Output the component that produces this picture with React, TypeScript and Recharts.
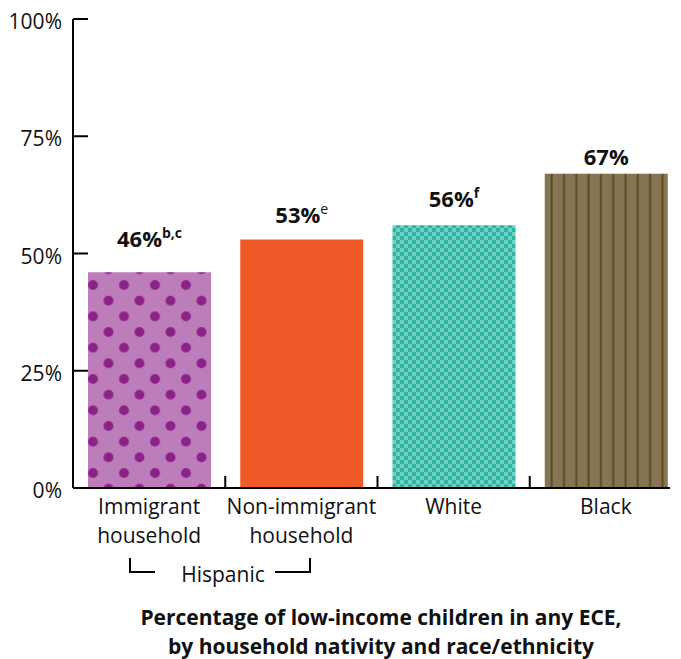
import React from 'react';
import { BarChart, Bar, XAxis, YAxis, Cell, LabelList } from 'recharts';

const categories = ['Immigrant household', 'Non-immigrant household', 'White', 'Black'];
const categoryLines = [['Immigrant', 'household'], ['Non-immigrant', 'household'], ['White'], ['Black']];
const values = [46, 53, 56, 67];
const superscripts = ['b,c', 'e', 'f', ''];
const superBold = [true, false, true, false];
const yTicks = [0, 25, 50, 75, 100];
const fills = ['url(#dots)', '#f05a28', 'url(#checker)', 'url(#stripes)'];

const data = categories.map((c, i) => ({ name: c, value: values[i] }));

// layout / style constants
const LABEL_GAP = [25, 16, 18, 9];
const FONT = '"Open Sans", "Noto Sans", sans-serif';
const CHART_W = 670;
const CHART_H = 659;
const MARGIN = { top: 19, right: 0, bottom: 111, left: 0 };
const Y_W = 73;
const X_H = 60;
const PAD_RIGHT = -12;
const PLOT_W = CHART_W - MARGIN.left - MARGIN.right - Y_W;
const BAND = (PLOT_W - PAD_RIGHT) / categories.length;

const YTick = (props: any) => {
  const { y, payload } = props;
  return (
    <g>
      <line x1={Y_W} x2={Y_W + 15} y1={y} y2={y} stroke="#000" strokeWidth={2} />
      <text x={Y_W - 11} y={y} dy={10} textAnchor="end" fontFamily={FONT} fontSize={21} fill="#111">
        {payload.value}%
      </text>
    </g>
  );
};

const XTick = (props: any) => {
  const { x, y, index } = props;
  const lines = categoryLines[index] || [];
  return (
    <g>
      {index > 0 && (
        <line x1={x - BAND / 2} x2={x - BAND / 2} y1={y} y2={y - 12} stroke="#000" strokeWidth={2} />
      )}
      {lines.map((l, i) => (
        <text key={i} x={x} y={y + 26 + i * 29} textAnchor="middle" fontFamily={FONT} fontSize={21} fill="#111">
          {l}
        </text>
      ))}
    </g>
  );
};

const ValueLabel = (props: any) => {
  const { x, y, width, index } = props;
  const sup = superscripts[index];
  return (
    <text x={x + width / 2} y={y - LABEL_GAP[index]} textAnchor="middle" fontFamily={FONT} fill="#111">
      <tspan fontSize={22} fontWeight={700}>{values[index]}%</tspan>
      {sup ? (
        <tspan fontSize={14} fontWeight={superBold[index] ? 700 : 400} dy={-9}>{sup}</tspan>
      ) : null}
    </text>
  );
};

export default function App() {
  return (
    <div style={{ position: 'relative', width: 681, height: 659, marginTop: -8, marginLeft: -8 }}>
      <BarChart width={CHART_W} height={CHART_H} data={data} margin={MARGIN} barSize={123}>
        <defs>
          <pattern id="dots" patternUnits="userSpaceOnUse" width={31} height={31.33} x={85.25} y={277.17}>
            <rect width={31} height={31.33} fill="#bd7dbb" />
            <circle cx={7.75} cy={7.83} r={5} fill="#8c2187" />
            <circle cx={23.25} cy={23.5} r={5} fill="#8c2187" />
          </pattern>
          <pattern id="checker" patternUnits="userSpaceOnUse" width={8} height={8}>
            <rect width={8} height={8} fill="#2db4a2" />
            <rect width={4} height={4} fill="#72d0c4" />
            <rect x={4} y={4} width={4} height={4} fill="#72d0c4" />
          </pattern>
          <pattern id="stripes" patternUnits="userSpaceOnUse" width={12.3} height={20} x={8}>
            <rect width={12.3} height={20} fill="#857553" />
            <rect x={1.5} width={2} height={20} fill="#5c4a26" />
          </pattern>
        </defs>
        <YAxis
          width={Y_W}
          domain={[0, 100]}
          ticks={yTicks}
          interval={0}
          tickLine={false}
          axisLine={{ stroke: '#000', strokeWidth: 2 }}
          tick={<YTick />}
        />
        <XAxis
          dataKey="name"
          height={X_H}
          interval={0}
          padding={{ left: 0, right: PAD_RIGHT }}
          tickLine={false}
          tickSize={0}
          tickMargin={0}
          axisLine={{ stroke: '#000', strokeWidth: 2 }}
          tick={<XTick />}
        />
        <Bar dataKey="value" isAnimationActive={false}>
          {data.map((d, i) => (
            <Cell key={d.name} fill={fills[i]} />
          ))}
          <LabelList dataKey="value" content={<ValueLabel />} />
        </Bar>
      </BarChart>
      <svg width={681} height={659} style={{ position: 'absolute', left: 0, top: 0, pointerEvents: 'none' }}>
        <polyline points="130,558 130,572 155,572" fill="none" stroke="#000" strokeWidth={2} />
        <polyline points="275,572 310,572 310,558" fill="none" stroke="#000" strokeWidth={2} />
        <text x={223} y={582} textAnchor="middle" fontFamily={FONT} fontSize={21} fill="#111">Hispanic</text>
        <text x={381} y={625} textAnchor="middle" fontFamily={FONT} fontSize={21} fontWeight={700} fill="#111">
          Percentage of low-income children in any ECE,
        </text>
        <text x={381} y={654} textAnchor="middle" fontFamily={FONT} fontSize={21} fontWeight={700} fill="#111">
          by household nativity and race/ethnicity
        </text>
      </svg>
    </div>
  );
}
